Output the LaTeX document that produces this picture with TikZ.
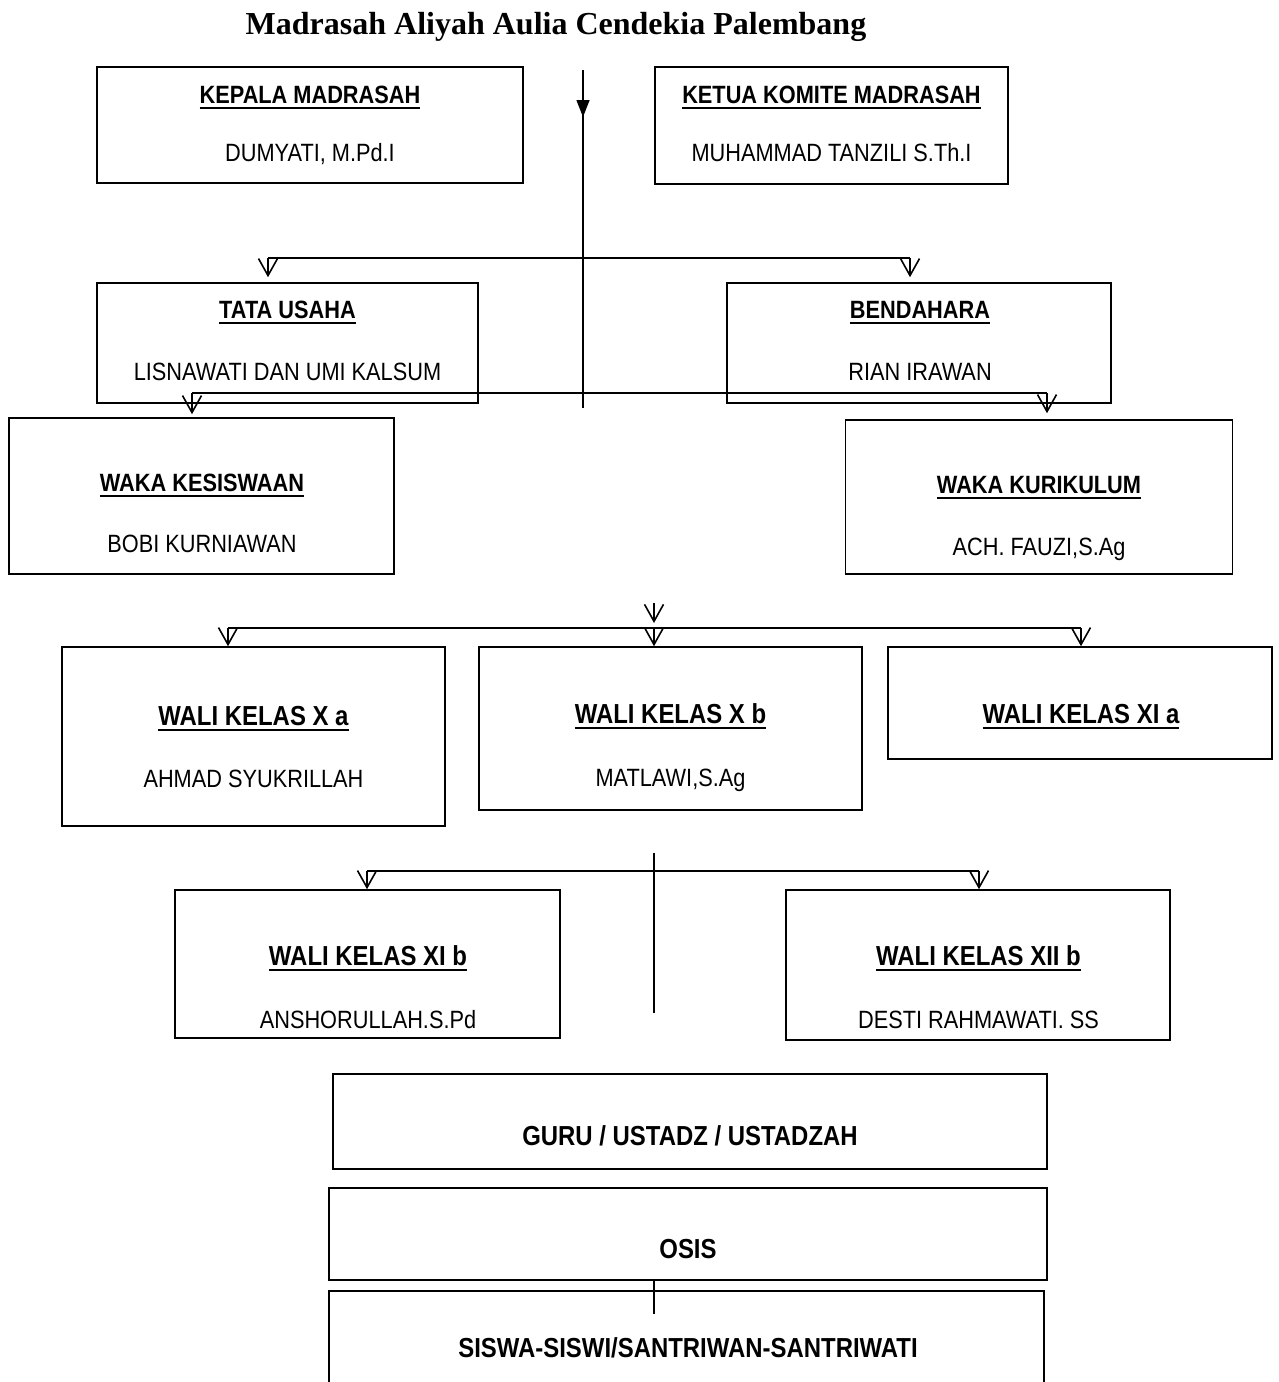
\documentclass[tikz,border=0pt]{standalone}
\usepackage{fontspec}
\setmainfont{Liberation Sans}[FakeStretch=0.87]
\newfontfamily\titlefont{Liberation Serif}
\usetikzlibrary{arrows.meta}
\newcommand\ulx[1]{\setbox0=\hbox{#1}\leavevmode\rlap{\rule[-5.5pt]{\wd0}{2pt}}\box0}
\tikzset{
  box/.style={draw, line width=1.6pt, rectangle, inner sep=0pt},
  hd/.style={anchor=base, inner sep=0pt, font=\fontsize{25}{29}\selectfont\bfseries},
  hdb/.style={anchor=base, inner sep=0pt, font=\fontsize{27.5}{31}\selectfont\bfseries},
  nm/.style={anchor=base, inner sep=0pt, font=\fontsize{25}{29}\selectfont},
  conn/.style={line width=1.4pt},
  varr/.style={line width=1.4pt, -{Straight Barb[length=17pt,width=19pt,line width=1.6pt]}},
  farr/.style={line width=1.4pt, -{Triangle[length=17pt,width=13pt]}}
}
\begin{document}
\begin{tikzpicture}[x=1pt,y=-1pt]
\useasboundingbox (0,0) rectangle (1278,1382);
\clip (0,0) rectangle (1278,1382);
\fill[white] (0,0) rectangle (1278,1382);

% title
\node[anchor=base, inner sep=0pt, font=\titlefont\fontsize{32}{36}\selectfont\bfseries] (title) at (556,34) {Madrasah Aliyah Aulia Cendekia Palembang};

% boxes
\node[box, minimum width=426pt, minimum height=116pt] (kepala) at (310,125) {};
\node[box, minimum width=353pt, minimum height=117pt] (ketua) at (831.5,125.5) {};
\node[box, minimum width=381pt, minimum height=120pt] (tata) at (287.5,343) {};
\node[box, minimum width=384pt, minimum height=120pt] (bendahara) at (919,343) {};
\node[box, minimum width=385pt, minimum height=156pt] (kesiswaan) at (201.5,496) {};
\node[box, minimum width=387pt, minimum height=154pt] (kurikulum) at (1039,497) {};
\node[box, minimum width=383pt, minimum height=179pt] (xa) at (253.5,736.5) {};
\node[box, minimum width=383pt, minimum height=163pt] (xb) at (670.5,728.5) {};
\node[box, minimum width=384pt, minimum height=112pt] (xia) at (1080,703) {};
\node[box, minimum width=385pt, minimum height=148pt] (xib) at (367.5,964) {};
\node[box, minimum width=384pt, minimum height=150pt] (xiib) at (978,965) {};
\node[box, minimum width=714pt, minimum height=95pt] (guru) at (690,1121.5) {};
\node[box, minimum width=718pt, minimum height=92pt] (osis) at (688,1234) {};
\node[box, minimum width=715pt, minimum height=110pt] (siswa) at (686.5,1346) {};

% texts
\node[hd] (kepala-t) at (310,103) {\ulx{KEPALA MADRASAH}};
\node[nm] (kepala-n) at (310,161) {DUMYATI, M.Pd.I};
\node[hd] (ketua-t) at (831.5,103) {\ulx{KETUA KOMITE MADRASAH}};
\node[nm] (ketua-n) at (831.5,161) {MUHAMMAD TANZILI S.Th.I};
\node[hd] (tata-t) at (287.5,318) {\ulx{TATA USAHA}};
\node[nm] (tata-n) at (287.5,380) {LISNAWATI DAN UMI KALSUM};
\node[hd] (bend-t) at (920,318) {\ulx{BENDAHARA}};
\node[nm] (bend-n) at (920,380) {RIAN IRAWAN};
\node[hd] (kes-t) at (202,491) {\ulx{WAKA KESISWAAN}};
\node[nm] (kes-n) at (202,552) {BOBI KURNIAWAN};
\node[hd] (kur-t) at (1039,493) {\ulx{WAKA KURIKULUM}};
\node[nm] (kur-n) at (1039,555) {ACH. FAUZI,S.Ag};
\node[hdb] (xa-t) at (253.5,725) {\ulx{WALI KELAS X a}};
\node[nm] (xa-n) at (253.5,787) {AHMAD SYUKRILLAH};
\node[hdb] (xb-t) at (670.5,723) {\ulx{WALI KELAS X b}};
\node[nm] (xb-n) at (670.5,786) {MATLAWI,S.Ag};
\node[hdb] (xia-t) at (1081,723) {\ulx{WALI KELAS XI a}};
\node[hdb] (xib-t) at (368,965) {\ulx{WALI KELAS XI b}};
\node[nm] (xib-n) at (368,1028) {ANSHORULLAH.S.Pd};
\node[hdb] (xiib-t) at (978.5,965) {\ulx{WALI KELAS XII b}};
\node[nm] (xiib-n) at (978.5,1028) {DESTI RAHMAWATI. SS};
\node[hdb] (guru-t) at (690,1145) {GURU / USTADZ / USTADZAH};
\node[hdb] (osis-t) at (688,1258) {OSIS};
\node[hdb] (siswa-t) at (688,1357) {SISWA-SISWI/SANTRIWAN-SANTRIWATI};

% coordinates
\coordinate (vtop) at (583,70);
\coordinate (vmid) at (583,117);
\coordinate (vbot) at (583,408);
\coordinate (b1l) at (268,258);
\coordinate (b1r) at (910,258);
\coordinate (b2l) at (192,393);
\coordinate (b2r) at (1047,393);
\coordinate (r3top) at (654,603);
\coordinate (r3tip) at (654,623);
\coordinate (b3l) at (228,628);
\coordinate (b3m) at (654,628);
\coordinate (b3r) at (1081,628);
\coordinate (v4top) at (654,853);
\coordinate (v4bot) at (654,1013);
\coordinate (b4l) at (367,871);
\coordinate (b4r) at (979,871);
\coordinate (v5top) at (654,1281);
\coordinate (v5bot) at (654,1314);

% connectors
\draw[conn] (vtop) -- (vbot);
\draw[farr] (vtop) -- (vmid);
\draw[conn] (b1l) -- (b1r);
\draw[varr, shorten >=5pt] (b1l) -- (tata.north -| b1l);
\draw[varr, shorten >=5pt] (b1r) -- (bendahara.north -| b1r);
\draw[conn] (b2l) -- (b2r);
\draw[varr, shorten >=3pt] (b2l) -- (kesiswaan.north -| b2l);
\draw[varr, shorten >=6pt] (b2r) -- (kurikulum.north -| b2r);

\draw[varr] (r3top) -- (r3tip);
\draw[conn] (b3l) -- (b3r);
\draw[varr] (b3l) -- (xa.north -| b3l);
\draw[varr] (b3m) -- (xb.north -| b3m);
\draw[varr] (b3r) -- (xia.north -| b3r);

\draw[conn] (v4top) -- (v4bot);
\draw[conn] (b4l) -- (b4r);
\draw[varr] (b4l) -- (xib.north -| b4l);
\draw[varr] (b4r) -- (xiib.north -| b4r);

\draw[conn] (v5top) -- (v5bot);
\end{tikzpicture}
\end{document}
